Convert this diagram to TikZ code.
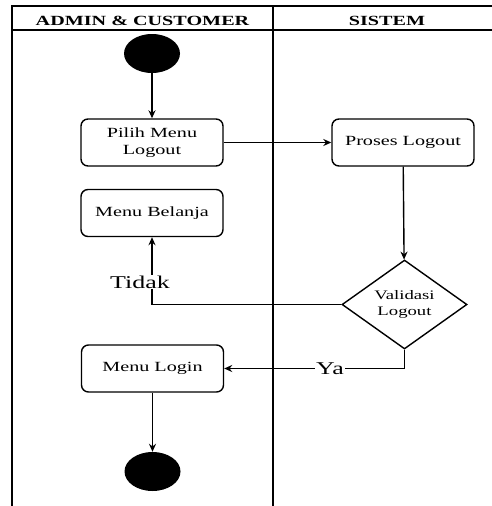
\documentclass[tikz,border=0pt]{standalone}
\usepackage{fontspec}
\usepackage{graphicx}
\setmainfont{Liberation Serif}
\usetikzlibrary{arrows.meta,shapes.geometric}

% text is set slightly wide, as in the swimlane drawing
\newcommand{\widetext}[1]{\scalebox{1.44}[1]{#1}}
\newcommand{\widelines}[1]{\scalebox{1.44}[1]{\begin{tabular}{@{}c@{}}#1\end{tabular}}}

\tikzset{
  lane/.style={line width=1.8pt},
  actbox/.style={draw, line width=1.4pt, rounded corners=7pt, fill=white,
    minimum width=142pt, minimum height=47pt, inner sep=0pt,
    font=\fontsize{14}{17}\selectfont},
  decision/.style={draw, diamond, line width=1.4pt, fill=white, inner sep=0pt,
    minimum width=125pt, minimum height=89pt, aspect=1.4,
    font=\fontsize{13}{16}\selectfont},
  terminal/.style={ellipse, fill=black, inner sep=0pt,
    minimum width=56pt, minimum height=39pt},
  flow/.style={line width=1.4pt, -{Stealth[length=8pt,width=7pt]}},
  guard/.style={fill=white, inner sep=1pt, font=\fontsize{18}{20}\selectfont},
  lanehead/.style={font=\fontsize{14}{16}\selectfont\bfseries}
}

\begin{document}
\begin{tikzpicture}[x=1pt,y=-1pt]
  \useasboundingbox (0,0) rectangle (492,506);
  \clip (0,0) rectangle (492,506);

  % swimlane frame and header row
  \draw[lane] (12,520) -- (12,6) -- (510,6);
  \draw[lane] (12,30) -- (510,30);
  \draw[lane] (273,6) -- (273,520);
  \node[lanehead] (hdrA) at (142.5,21) {\widetext{ADMIN \& CUSTOMER}};
  \node[lanehead] (hdrB) at (387,21) {\widetext{SISTEM}};

  % activities
  \node[terminal] (start) at (152,53.5) {};
  \node[actbox] (pilih) at (152,142.5) {\widelines{Pilih Menu\\Logout}};
  \node[actbox] (proses) at (403,142.5) {\widetext{Proses Logout}};
  \node[actbox] (belanja) at (152,213) {\widetext{Menu Belanja}};
  \node[decision] (valid) at (404.5,304.5) {\widelines{Validasi\\Logout}};
  \node[actbox] (login) at (152.5,368.5) {\widetext{Menu Login}};
  \node[terminal] (stop) at (152.5,471.5) {};

  % control flow
  \draw[flow] (start) -- (pilih);
  \draw[flow] (pilih) -- (proses);
  \draw[flow] (proses) -- (valid);
  \draw[flow] (valid.west) -| (belanja.south);
  \draw[flow] (valid.south) |- (login.east);
  \draw[flow] (login) -- (stop);

  % guard labels
  \node[guard] (tidak) at (140,282) {\widetext{Tidak}};
  \node[guard] (ya) at (330,368.5) {\widetext{Ya}};
\end{tikzpicture}
\end{document}
